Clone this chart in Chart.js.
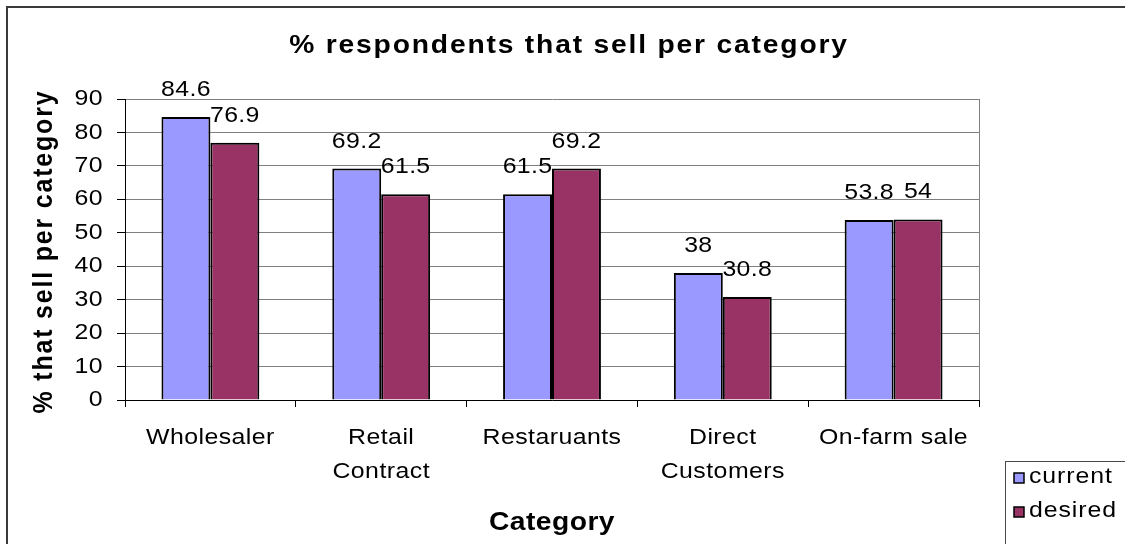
<!DOCTYPE html>
<html>
<head>
<meta charset="utf-8">
<script src="https://cdn.jsdelivr.net/npm/chart.js@4/dist/chart.umd.min.js"></script>
<style>
  html, body { margin: 0; padding: 0; background: #fff; }
  #wrap { width: 1125px; height: 544px; position: relative; }
</style>
</head>
<body>
<div id="wrap"><canvas id="c" width="1125" height="544"></canvas></div>
<script>
// Sales channels surveyed
const categories = [
  'Wholesaler',
  ['Retail', 'Contract'],
  'Restaruants',
  ['Direct', 'Customers'],
  'On-farm sale'
];
// Share of respondents (%) selling now vs. wanting to sell
const currentValues = [84.6, 69.2, 61.5, 38, 53.8];
const desiredValues = [76.9, 61.5, 69.2, 30.8, 54];
const seriesNames = ['current', 'desired'];
const seriesColors = ['#9999FF', '#993366'];
const yTicks = { min: 0, max: 90, step: 10 };

const chartTitle = '% respondents that sell per category';
const yTitle = '% that sell per category';
const xTitle = 'Category';

const FONT = 'Arial, "Liberation Sans", sans-serif';
const TICK_SPACING = '0.4px';
const TEXT_WIDEN = 1.13;   // wide letterforms: stretch every text run horizontally on screen

const canvas = document.getElementById('c');
const ctx2d = canvas.getContext('2d');
const nativeFillText = CanvasRenderingContext2D.prototype.fillText;
ctx2d.fillText = function (text, x, y, maxWidth) {
  const m = this.getTransform();
  const dx = m.a * x + m.c * y + m.e;
  const dy = m.b * x + m.d * y + m.f;
  this.save();
  this.setTransform(TEXT_WIDEN * m.a, m.b, TEXT_WIDEN * m.c, m.d, dx, dy);
  if (maxWidth === undefined) nativeFillText.call(this, text, 0, 0);
  else nativeFillText.call(this, text, 0, 0, maxWidth);
  this.restore();
};

// Frame, titles, legend and value labels drawn around the plot area
const decorations = {
  id: 'decorations',
  beforeDraw(chart) {
    chart.ctx.letterSpacing = TICK_SPACING;
  },
  afterDatasetsDraw(chart) {
    const ctx = chart.ctx;
    ctx.save();
    ctx.letterSpacing = '0.3px';
    ctx.font = '22px ' + FONT;
    ctx.fillStyle = '#000';
    ctx.textAlign = 'center';
    ctx.textBaseline = 'alphabetic';
    chart.data.datasets.forEach((ds, di) => {
      const meta = chart.getDatasetMeta(di);
      meta.data.forEach((bar, i) => {
        ctx.fillText(String(ds.data[i]), bar.x, bar.y - 21);
      });
    });
    ctx.restore();
  },
  afterDraw(chart) {
    const ctx = chart.ctx;
    const a = chart.chartArea;
    ctx.save();

    // plot area right edge
    ctx.strokeStyle = '#808080';
    ctx.lineWidth = 1;
    ctx.beginPath();
    ctx.moveTo(Math.round(a.right) + 0.5, a.top);
    ctx.lineTo(Math.round(a.right) + 0.5, a.bottom);
    ctx.stroke();

    // outer chart frame
    ctx.strokeStyle = '#3a3a3a';
    ctx.lineWidth = 2;
    ctx.strokeRect(7, 7, 1140, 560);

    // chart title
    ctx.fillStyle = '#000';
    ctx.textAlign = 'center';
    ctx.textBaseline = 'alphabetic';
    ctx.letterSpacing = '1.6px';
    ctx.font = 'bold 25px ' + FONT;
    ctx.fillText(chartTitle, 569, 53);

    // x axis title
    ctx.letterSpacing = '0.4px';
    ctx.font = 'bold 25px ' + FONT;
    ctx.fillText(xTitle, (a.left + a.right) / 2, 530);

    // y axis title
    ctx.save();
    ctx.translate(52, (a.top + a.bottom) / 2 + 2);
    ctx.rotate(-Math.PI / 2);
    ctx.letterSpacing = '1.8px';
    ctx.font = 'bold 25px ' + FONT;
    ctx.fillText(yTitle, 0, 0);
    ctx.restore();

    // legend
    ctx.fillStyle = '#fff';
    ctx.fillRect(1005, 461, 200, 120);
    ctx.strokeStyle = '#4a4a4a';
    ctx.lineWidth = 1;
    ctx.strokeRect(1005.5, 461.5, 200, 120);
    ctx.letterSpacing = '0.8px';
    ctx.font = '22px ' + FONT;
    ctx.textAlign = 'left';
    const rows = [483, 517];
    seriesNames.forEach((name, i) => {
      const base = rows[i];
      ctx.fillStyle = seriesColors[i];
      ctx.fillRect(1014, base - 10, 10, 10);
      ctx.strokeStyle = '#000';
      ctx.lineWidth = 1.5;
      ctx.strokeRect(1014, base - 10, 10, 10);
      ctx.fillStyle = '#000';
      ctx.fillText(name, 1029, base);
    });

    ctx.restore();
  }
};

new Chart(canvas, {
  type: 'bar',
  data: {
    labels: categories,
    datasets: [
      {
        label: seriesNames[0],
        data: currentValues,
        backgroundColor: seriesColors[0],
        borderColor: '#000',
        borderWidth: 2,
        categoryPercentage: 0.573,
        barPercentage: 1
      },
      {
        label: seriesNames[1],
        data: desiredValues,
        backgroundColor: seriesColors[1],
        borderColor: '#000',
        borderWidth: 2,
        categoryPercentage: 0.573,
        barPercentage: 1
      }
    ]
  },
  options: {
    responsive: false,
    animation: false,
    devicePixelRatio: 1,
    layout: { padding: { left: 0, right: 146, top: 99, bottom: 0 } },
    plugins: {
      legend: { display: false },
      title: { display: false },
      tooltip: { enabled: false }
    },
    scales: {
      x: {
        offset: true,
        grid: {
          offset: true,
          drawOnChartArea: false,
          drawTicks: true,
          tickLength: 7,
          color: '#000',
          lineWidth: 1
        },
        border: { display: true, color: '#000', width: 1 },
        ticks: {
          color: '#000',
          font: { family: FONT, size: 22, lineHeight: 1.55 },
          padding: 14,
          autoSkip: false,
          maxRotation: 0,
          minRotation: 0
        },
        afterFit(scale) { scale.height = 144; }
      },
      y: {
        min: yTicks.min,
        max: yTicks.max,
        grid: {
          color: '#808080',
          lineWidth: 1,
          drawTicks: true,
          tickLength: 8,
          tickColor: '#000'
        },
        border: { display: true, color: '#000', width: 1 },
        ticks: {
          stepSize: yTicks.step,
          color: '#000',
          font: { family: FONT, size: 22 },
          padding: 14
        },
        afterFit(scale) { scale.width = 125; }
      }
    }
  },
  plugins: [decorations]
});
</script>
</body>
</html>
